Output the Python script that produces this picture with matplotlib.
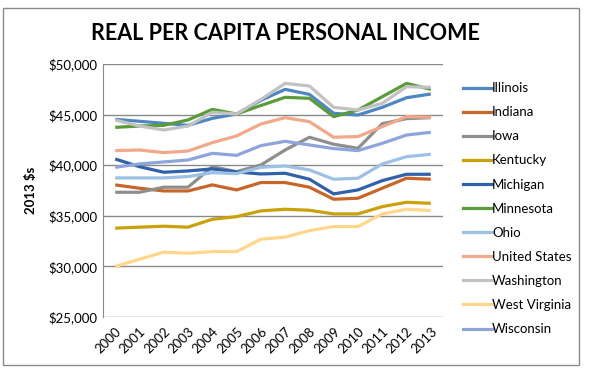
import matplotlib.pyplot as plt
from matplotlib.patches import Rectangle
from matplotlib.lines import Line2D

plt.rcParams['font.family'] = ['Lato', 'DejaVu Sans']

years = [str(y) for y in range(2000, 2014)]

states = ["Illinois", "Indiana", "Iowa", "Kentucky", "Michigan", "Minnesota",
          "Ohio", "United States", "Washington", "West Virginia", "Wisconsin"]

illinois = [44530, 44340, 44140, 43940, 44630, 45060, 46400, 47500, 47000, 45130, 44960, 45720, 46670, 47040]
indiana = [38050, 37720, 37450, 37450, 38050, 37550, 38280, 38280, 37820, 36630, 36730, 37720, 38710, 38610]
iowa = [37320, 37320, 37820, 37820, 39850, 39360, 40020, 41500, 42760, 42070, 41670, 44100, 44600, 44700]
kentucky = [33770, 33870, 33960, 33870, 34650, 34910, 35480, 35640, 35540, 35180, 35180, 35900, 36330, 36230]
michigan = [40610, 39850, 39300, 39430, 39630, 39330, 39130, 39200, 38610, 37160, 37550, 38470, 39100, 39100]
minnesota = [43740, 43870, 43940, 44470, 45520, 45060, 45900, 46710, 46610, 44800, 45450, 46770, 48090, 47500]
ohio = [38740, 38740, 38740, 38870, 39260, 39160, 39790, 39920, 39530, 38610, 38710, 40120, 40840, 41080]
united_states = [41440, 41500, 41240, 41400, 42230, 42890, 44070, 44700, 44300, 42760, 42830, 43810, 44800, 44730]
washington = [44470, 43870, 43480, 43870, 45230, 45060, 46500, 48090, 47830, 45720, 45450, 46110, 47760, 47700]
west_virginia = [29980, 30700, 31400, 31290, 31450, 31450, 32680, 32880, 33530, 33930, 33930, 35180, 35640, 35510]
wisconsin = [39790, 40120, 40320, 40510, 41170, 40970, 41930, 42360, 42000, 41640, 41440, 42160, 42980, 43250]

series = [illinois, indiana, iowa, kentucky, michigan, minnesota,
          ohio, united_states, washington, west_virginia, wisconsin]
colors = ['#4E86C3', '#C8662A', '#8E8E8E', '#C9A10A', '#3161AA', '#5B9B3A',
          '#9DC0E5', '#F2A88A', '#C2C2C2', '#FFD68A', '#8DA5DB']

W, H = 589, 379
fig = plt.figure(figsize=(W / 100, H / 100), dpi=100)
ax = fig.add_axes([0.175, 0.164, 0.577, 0.667])

x = list(range(len(years)))
for vals, c, name in zip(series, colors, states):
    ax.plot(x, vals, color=c, lw=2.3, label=name, solid_capstyle='butt')

ax.set_xlim(-0.5, len(years) - 0.5)
ax.set_ylim(25000, 50000)
ax.set_yticks(range(25000, 50001, 5000))
ax.set_yticklabels(['${:,}'.format(v) for v in range(25000, 50001, 5000)])
ax.set_xticks(x)
ax.set_xticklabels(years, rotation=45, ha='right', rotation_mode='anchor')
ax.tick_params(axis='both', length=0, labelsize=9.5, colors='#000000', pad=4)
ax.tick_params(axis='x', pad=6)
ax.yaxis.grid(True, color='#8A8A8A', lw=1)
ax.set_axisbelow(True)
for s in ['top', 'right', 'bottom']:
    ax.spines[s].set_visible(False)
ax.spines['left'].set_color('#8A8A8A')
ax.set_ylabel('2013 $s', fontsize=9.5, fontweight='bold', labelpad=8)

# legend drawn by hand so the swatch sits on the text's middle
for i, (c, name) in enumerate(zip(colors, states)):
    py = 87.5 + i * 24.1
    fig.lines.append(Line2D([463 / W, 492 / W], [1 - py / H, 1 - py / H], color=c, lw=2.3,
                            transform=fig.transFigure))
    fig.text(492 / W, 1 - (py + 4.6) / H, name, ha='left', va='baseline', fontsize=9.5)

fig.text(0.485, 0.912, 'REAL PER CAPITA PERSONAL INCOME', ha='center', va='center',
         fontsize=15.5, fontweight='bold')

fig.patches.append(Rectangle((3 / W, 1 - 365 / H), 576 / W, 357 / H,
                             transform=fig.transFigure, fill=False,
                             edgecolor='#8A8A8A', lw=1))

fig.savefig('out.png', dpi=100)
